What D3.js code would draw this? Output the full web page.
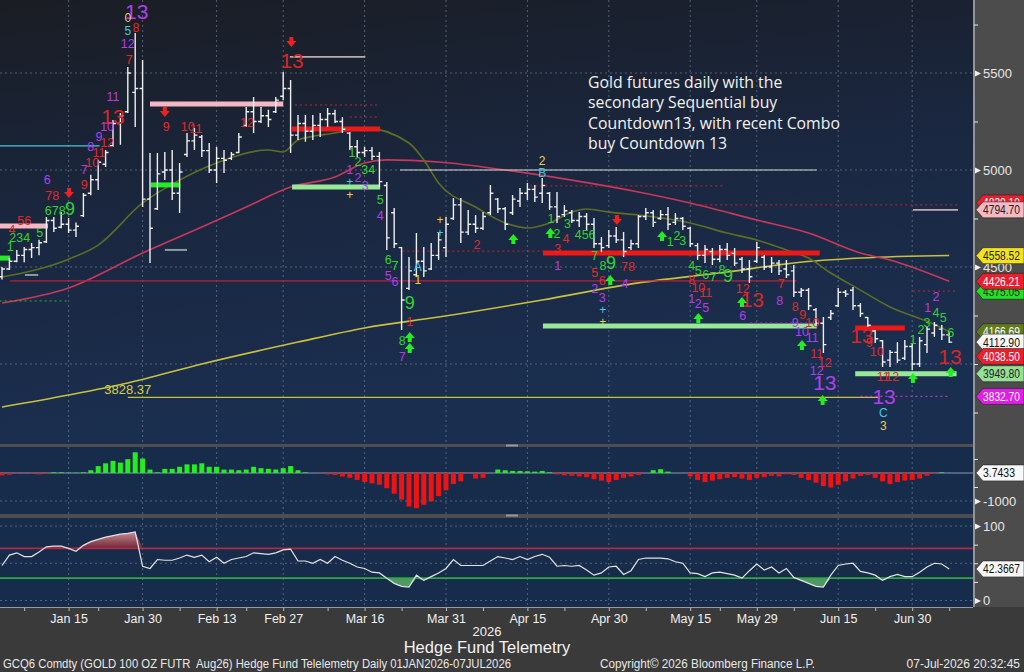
<!DOCTYPE html>
<html>
<head>
<meta charset="utf-8">
<title>Gold futures daily</title>
<script src="https://d3js.org/d3.v7.min.js"></script>
<style>
  body { margin: 0; background: #3b3b3b; }
  svg { display: block; }
  text { font-family: 'Liberation Sans Narrow', 'Arial Narrow', 'Liberation Sans', sans-serif; }
  .note { font-family: 'Open Sans', 'Noto Sans', sans-serif; font-size: 15.8px; fill: #f2f2f2; }
  .cnt { font-family: 'Liberation Sans', 'DejaVu Sans', sans-serif; text-anchor: middle; dominant-baseline: central; }
  .axis text { fill: #e6e6e6; font-size: 13px; }
  .axis line { stroke: #e6e6e6; }
  .xaxis text { fill: #f0f0f0; font-size: 12.5px; }
  .xaxis line { stroke: #bdbdbd; }
  .tagtext { font-size: 12.5px; dominant-baseline: central; }
  .foot { white-space: pre; }
</style>
</head>
<body>
<svg width="1024" height="672"></svg>
<script>
// ---- data ----
const tickLabels = ['Jan 15', 'Jan 30', 'Feb 13', 'Feb 27', 'Mar 16', 'Mar 31', 'Apr 15', 'Apr 30', 'May 15', 'May 29', 'Jun 15', 'Jun 30'];
const tickIdx = [9, 19, 29, 38, 49, 60, 71, 82, 93, 102, 113, 123];
const minorIdx = [3, 13, 24, 33, 44, 54, 65, 76, 87, 97, 107, 118, 128];

const openP = [4450,4490,4530,4560,4590,4600,4630,4740,4705,4720,
  4690,4765,4880,4950,5030,5125,5240,5300,5400,5420,
  4850,4800,4990,5000,4880,5080,5150,5170,5100,5000,
  5060,5060,5090,5230,5300,5250,5280,5300,5380,5420,
  5180,5240,5200,5230,5260,5290,5250,5190,5120,5090,
  5100,5070,4920,4780,4600,4390,4460,4530,4490,4560,
  4600,4750,4820,4680,4720,4700,4780,4850,4800,4780,
  4840,4880,4900,4880,4880,4810,4770,4780,4740,4760,
  4720,4620,4610,4660,4640,4600,4620,4760,4780,4750,
  4770,4730,4750,4700,4610,4560,4580,4540,4590,4570,
  4540,4490,4530,4550,4500,4520,4490,4480,4370,4380,
  4280,4210,4240,4300,4370,4380,4300,4240,4170,4120,
  4020,4060,4030,4090,4000,4100,4160,4180,4150];
const highP = [4500,4546,4588,4603,4624,4640,4758,4758,4783,4752,
  4730,4881,4975,5052,5103,5258,5294,5531,5706,5567,
  5088,5088,5093,5103,5036,5191,5216,5180,5139,5119,
  5103,5093,5191,5325,5376,5325,5310,5376,5505,5464,
  5284,5284,5284,5294,5320,5310,5273,5196,5155,5119,
  5119,5093,4938,4804,4603,4551,4675,4603,4624,4675,
  4758,4856,4856,4794,4768,4783,4923,4856,4809,4871,
  4907,4933,4923,4959,4887,4887,4820,4794,4783,4778,
  4753,4655,4691,4706,4680,4640,4768,4804,4794,4794,
  4809,4778,4758,4706,4624,4613,4598,4613,4624,4598,
  4551,4536,4629,4562,4551,4536,4536,4510,4392,4392,
  4289,4242,4278,4392,4381,4397,4314,4242,4175,4124,
  4072,4113,4124,4108,4139,4191,4216,4201,4165];
const lowP = [4435,4485,4525,4525,4546,4560,4624,4680,4700,4675,
  4655,4758,4870,4897,5015,5119,5130,5294,5222,4809,
  4521,4794,4948,4845,4778,5067,5103,5067,4985,4933,
  4985,5052,5088,5222,5191,5242,5222,5294,5361,5088,
  5155,5145,5155,5170,5222,5242,5191,5103,5067,5067,
  5052,4912,4588,4598,4175,4381,4448,4448,4485,4536,
  4551,4742,4624,4665,4675,4691,4768,4778,4691,4768,
  4809,4845,4835,4830,4794,4727,4758,4727,4706,4691,
  4598,4577,4598,4624,4551,4588,4598,4742,4706,4742,
  4691,4716,4691,4603,4536,4521,4510,4525,4536,4505,
  4469,4418,4521,4485,4469,4459,4443,4345,4345,4278,
  4191,4057,4227,4294,4345,4278,4242,4191,4108,3985,
  3985,4005,4021,3969,3985,4057,4139,4124,4108];
const closeP = [4490,4530,4560,4590,4600,4625,4740,4700,4720,4690,
  4710,4870,4950,5040,5090,5240,5280,5500,5420,4850,
  4700,4980,5000,4880,4990,5150,5180,5100,5000,5060,
  5050,5080,5170,5300,5250,5280,5260,5360,5420,5180,
  5240,5200,5230,5260,5290,5250,5210,5120,5090,5100,
  5070,4940,4650,4620,4330,4480,4530,4480,4560,4640,
  4720,4820,4680,4720,4700,4760,4880,4800,4720,4850,
  4880,4900,4860,4920,4810,4760,4790,4740,4760,4720,
  4620,4600,4660,4640,4580,4620,4760,4780,4730,4770,
  4720,4750,4710,4620,4560,4590,4540,4590,4560,4520,
  4490,4450,4600,4500,4520,4480,4460,4370,4380,4300,
  4210,4100,4260,4370,4360,4300,4260,4200,4130,4010,
  4060,4020,4090,4000,4120,4180,4200,4150,4112.9];

// moving averages, sampled along the lines
const ma20Idx = [0,9,13,19,24,29,36,38,40,45,49,55,57,59,64,68,71,74,77,79,82,86,93,98,102,106,109,112,116,120,125,128];
const ma20Val = [4448,4540,4613,4830,4948,5036,5103,5093,5155,5191,5217,5139,5052,4933,4809,4727,4701,4727,4783,4799,4783,4768,4727,4675,4639,4588,4546,4469,4381,4294,4220,4167];
const ma50Idx = [0,9,19,27,33,39,45,49,52,59,68,77,86,93,102,109,116,120,128];
const ma50Val = [4314,4392,4572,4706,4809,4912,4964,5036,5052,5041,5000,4948,4887,4830,4742,4675,4572,4536,4426];
const ma200Idx = [0,9,17,27,40,49,59,73,86,98,107,116,128];
const ma200Val = [3778,3840,3902,4000,4113,4186,4242,4330,4418,4474,4521,4546,4559];

const histVals = [-86,-62,-25,-12,-25,-50,-25,25,25,12,
  12,25,99,247,346,432,370,494,740,518,
  123,25,148,148,222,308,308,346,222,222,
  123,123,99,123,222,173,148,124,173,247,
  99,25,0,-12,-50,-74,-124,-173,-247,-321,
  -370,-420,-543,-741,-951,-1198,-1260,-1136,-1013,-827,
  -617,-395,-296,-25,-198,-173,0,124,99,74,
  74,62,50,74,25,-50,-86,-99,-124,-148,
  -222,-272,-321,-247,-173,-124,-74,0,99,136,
  50,0,0,-124,-247,-321,-272,-222,-173,-148,
  -198,-247,-173,-148,-99,-124,-50,-74,-173,-247,
  -346,-469,-519,-420,-296,-198,-99,-74,-173,-296,
  -395,-321,-272,-247,-198,-99,-25,25,3.7433];

const oscVals = [47,61,64,59,59,65,72,73,73,70,
  66,74,79,82,85,87,89,90,92,46,
  43,55,54,54,57,61,58,61,52,58,
  50,55,57,59,64,63,62,64,68,69,
  53,53,50,55,50,59,54,50,45,43,
  38,37,30,23,19,18,34,27,32,37,
  43,55,47,47,47,47,53,59,57,55,
  59,55,59,62,58,46,47,46,47,41,
  34,37,45,46,35,40,55,57,57,57,
  56,52,50,37,36,32,37,38,36,34,
  30,40,49,41,45,37,43,31,27,23,
  19,18,34,47,49,50,39,37,34,27,
  32,35,32,32,38,45,50,49,42.3667];

// horizontal study levels: [from bar, to bar, price, kind]
const levels = [
  [-1, 13.2, 5124, 'cyan'],
  [20, 38, 5340, 'pinkThick'],
  [-1, 6.2, 4711, 'pinkThick'],
  [20.1, 24.1, 4923, 'greenThick'],
  [-1, 1.1, 4546, 'greenThick'],
  [22, 25, 4588, 'grey'],
  [3.1, 4.9, 4459, 'grey'],
  [1.1, 107.4, 4428, 'redThin'],
  [-1, 8.9, 4325, 'greenDot'],
  [38.9, 49.1, 5583, 'pinkGrey'],
  [39.6, 51.1, 5335, 'redDot'],
  [47, 51.1, 5273, 'redDot'],
  [39.2, 51.1, 5211, 'redThick'],
  [39.2, 51.1, 4912, 'lgThick'],
  [53.8, 110.1, 5000, 'white'],
  [71.4, 97.7, 4918, 'redDot'],
  [93, 129.2, 4820, 'redDot'],
  [54.1, 73.1, 4582, 'redDot'],
  [73.1, 110.5, 4572, 'redThick'],
  [73.1, 110.1, 4196, 'lgThick'],
  [101.1, 110.1, 4211, 'magDot'],
  [17, 118.6, 3828.37, 'yellow'],
  [115.3, 122, 4186, 'redThick'],
  [115.3, 129, 3949.8, 'lgThick'],
  [116, 128.1, 3832.7, 'magDot'],
  [123.1, 129.2, 4376, 'redDot'],
  [123.1, 129.2, 4794.7, 'pinkGrey']
];

// Sequential / Combo count labels: [text, bar, price, kind]
const counts = [
  ['13',18.2,5815,'P'],['0',17.0,5784,'y'],['5',17.0,5717,'c'],['8',18.1,5732,'r'],
  ['12',17.0,5650,'p'],['7',17.2,5567,'r'],['11',15.0,5376,'p'],['13',15.0,5278,'R'],
  ['10',14.2,5222,'p'],['9',13.1,5170,'p'],['12',14.2,5139,'r'],['8',12.0,5119,'p'],
  ['11',13.1,5088,'r'],['10',12.2,5036,'r'],['7',11.1,5000,'p'],['9',11.1,4923,'r'],
  ['6',6.1,4948,'p'],['78',6.8,4866,'r'],['678',7.2,4790,'g'],['9',9.2,4800,'G'],
  ['56',3.0,4737,'r'],['4',1.35,4691,'r'],['234',2.4,4649,'g'],['5',5.1,4675,'g'],['1',1.1,4603,'g'],
  ['9',22.2,5222,'r'],['10',25.1,5222,'r'],['11',26.2,5212,'r'],['12',33.1,5242,'r'],
  ['13',39.2,5567,'R'],
  ['1',47.3,5088,'g'],['2',48.1,5041,'g'],['34',49.5,5000,'g'],
  ['1',47.0,5000,'p'],['2',48.1,4959,'p'],['3',49.1,4918,'p'],
  ['+',47.0,4938,'c'],['+',47.0,4871,'y'],['5',51.1,4845,'g'],['4',51.1,4763,'p'],
  ['6',52.2,4536,'g'],['7',53.1,4505,'g'],['5',52.2,4454,'p'],['6',53.1,4423,'p'],
  ['A',56.2,4500,'c'],['1',56.2,4433,'y'],['9',55.1,4314,'G'],['1',55.1,4216,'r'],
  ['8',54.1,4119,'g'],['7',54.1,4036,'p'],['2',64.2,4613,'r'],
  ['+',59.2,4742,'y'],['+',59.2,4675,'c'],['2',73.0,5046,'y'],['B',73.0,4985,'c'],
  ['1',74.2,4747,'g'],['3',76.4,4722,'g'],['2',75.0,4670,'g'],['4',76.2,4644,'r'],
  ['456',78.8,4665,'g'],['3',75.1,4593,'r'],['1',75.1,4505,'p'],
  ['7',80.1,4557,'g'],['8',81.2,4505,'g'],['9',82.3,4521,'G'],
  ['5',80.1,4469,'r'],['6',81.1,4428,'r'],['2',80.1,4387,'p'],['3',81.1,4340,'p'],
  ['+',81.2,4278,'c'],['+',81.2,4216,'y'],['78',84.6,4500,'r'],['4',84.2,4412,'p'],
  ['1',90.3,4629,'g'],['2',91.2,4660,'g'],['3',92.0,4634,'g'],
  ['4',93.2,4505,'g'],['5',94.1,4479,'g'],['6',95.1,4459,'g'],['7',96.1,4448,'g'],
  ['8',97.3,4485,'g'],['9',98.1,4454,'G'],
  ['8',93.2,4433,'r'],['10',94.1,4392,'r'],['11',95.1,4366,'r'],
  ['1',93.2,4335,'p'],['2',94.1,4309,'p'],['5',95.1,4289,'p'],
  ['12',100.1,4387,'r'],['13',101.4,4335,'R'],['6',100.1,4247,'p'],
  ['7',105.3,4412,'r'],['8',105.1,4325,'p'],
  ['8',107.2,4294,'r'],['9',108.2,4253,'r'],['10',109.5,4211,'r'],
  ['9',107.2,4211,'p'],['10',108.1,4165,'p'],['11',109.5,4134,'p'],
  ['11',110.1,4051,'r'],['12',111.2,4005,'r'],['12',110.1,3964,'p'],['13',111.2,3907,'P'],
  ['13',116.2,4149,'R'],['9',117.2,4108,'r'],['10',118.2,4062,'r'],
  ['11',119.1,3933,'r'],['12',120.3,3933,'r'],['13',119.2,3830,'P'],
  ['C',119.1,3747,'c'],['3',119.1,3680,'y'],
  ['1',123.1,4124,'g'],['2',124.2,4175,'g'],['3',125.0,4211,'g'],['4',126.2,4263,'g'],
  ['5',127.2,4237,'g'],['6',128.2,4160,'g'],['1',125.1,4289,'p'],['2',126.2,4345,'p'],
  ['13',128.1,4041,'R']
];

// signal arrows: [bar, price]
const sellArrows = [[9.05,4881],[22.0,5299],[39.1,5660],[83.1,4742]];
const buyArrows = [[55.1,4139],[55.1,4082],[69.1,4644],[74.1,4675],[82.2,4433],[89.2,4660],
  [94.1,4237],[100,4320],[108.1,4098],[110.9,3814],[123.1,3928],[128.2,3959]];

// last-value tags on the price axis, in drawing order (later ones sit on top)
const tagVals = [4830.1, 4794.70, 4558.52, 4375.05, 4426.21, 4166.69, 4112.90, 4038.50, 3949.80, 3832.70];
const tagKinds = ['red', 'pink', 'yellow', 'green', 'red', 'olive', 'white', 'red', 'lgreen', 'magenta'];

const noteLines = ['Gold futures daily with the', 'secondary Sequential buy', 'Countdown13, with recent Combo', 'buy Countdown 13'];

// ---- drawing ----
const svg = d3.select('svg');
const plotR = 973;

const x = d3.scaleLinear().domain([0, 128]).range([2, 949.2]);
const yP = d3.scaleLinear().domain([3750, 5750]).range([412.5, 24.5]);
const yH = d3.scaleLinear().domain([-1000, 0]).range([501, 473]);
const yO = d3.scaleLinear().domain([0, 100]).range([600.5, 526]);

const defs = svg.append('defs');
const bg = defs.append('linearGradient').attr('id', 'bgPrice')
  .attr('x1', 0).attr('y1', 0).attr('x2', 0.25).attr('y2', 1);
bg.append('stop').attr('offset', 0).attr('stop-color', '#1a1d23');
bg.append('stop').attr('offset', 0.5).attr('stop-color', '#1a2740');
bg.append('stop').attr('offset', 1).attr('stop-color', '#1a2f50');
const obFill = defs.append('linearGradient').attr('id', 'obFill').attr('x1', 0).attr('y1', 0).attr('x2', 0).attr('y2', 1);
obFill.append('stop').attr('offset', 0).attr('stop-color', '#c98a95');
obFill.append('stop').attr('offset', 1).attr('stop-color', '#6e2535');

const panels = [['clipP', 0, 444], ['clipH', 447, 67], ['clipO', 518, 89]];
panels.forEach(p => {
  defs.append('clipPath').attr('id', p[0]).append('rect')
    .attr('x', 0).attr('y', p[1]).attr('width', plotR).attr('height', p[2]);
});

svg.append('rect').attr('width', 1024).attr('height', 672).attr('fill', '#3a3a3a');
svg.append('rect').attr('x', plotR).attr('width', 1024 - plotR).attr('height', 607).attr('fill', '#4c4c4c');
svg.append('rect').attr('width', plotR).attr('height', 444).attr('fill', 'url(#bgPrice)');
svg.append('rect').attr('y', 447).attr('width', plotR).attr('height', 67).attr('fill', '#172b4b');
svg.append('rect').attr('y', 518).attr('width', plotR).attr('height', 89).attr('fill', '#172b4b');
svg.append('rect').attr('y', 444).attr('width', plotR).attr('height', 3).attr('fill', '#4e4e4e');
svg.append('rect').attr('y', 514).attr('width', plotR).attr('height', 4).attr('fill', '#4e4e4e');
[444, 514].forEach(yy => {
  svg.append('rect').attr('x', 506).attr('y', yy + 0.5).attr('width', 12).attr('height', 2).attr('fill', '#9a9a9a');
});

// grid
const grid = svg.append('g').attr('stroke', '#7a8aa0').attr('stroke-dasharray', '2,3').attr('stroke-width', 0.8).attr('opacity', 0.75);
[[0, 444], [447, 514], [518, 607]].forEach(r => {
  grid.selectAll(null).data(tickIdx).enter().append('line')
    .attr('x1', d => x(d)).attr('x2', d => x(d)).attr('y1', r[0]).attr('y2', r[1]);
});
grid.selectAll(null).data([5500, 5000, 4500, 4000]).enter().append('line')
  .attr('x1', 0).attr('x2', plotR).attr('y1', d => yP(d)).attr('y2', d => yP(d));
grid.append('line').attr('x1', 0).attr('x2', plotR).attr('y1', yH(-1000)).attr('y2', yH(-1000));
grid.selectAll(null).data([100, 50, 0]).enter().append('line')
  .attr('x1', 0).attr('x2', plotR).attr('y1', d => yO(d)).attr('y2', d => yO(d));

// price panel
const pg = svg.append('g').attr('clip-path', 'url(#clipP)');

const levelStyle = {
  cyan: ['#46c8d8', 1.2, null], pinkThick: ['#f4b8c4', 5, null], greenThick: ['#22ee22', 5, null],
  lgThick: ['#98e898', 5, null], redThick: ['#ee1818', 5, null], grey: ['#8a9aa0', 2, null],
  redThin: ['#b82236', 1.3, null], greenDot: ['#30b030', 1, '2,3'], pinkGrey: ['#c0a8b0', 1.6, null],
  redDot: ['#d02030', 1, '2,3'], white: ['#d8d8d8', 1.2, null], magDot: ['#c030d0', 1.2, '2,3'],
  yellow: ['#c8c040', 1.3, null]
};

const maLine = d3.line().x(d => x(d[0])).y(d => yP(d[1])).curve(d3.curveMonotoneX);
[[ma200Idx, ma200Val, '#c9c13e'], [ma50Idx, ma50Val, '#c8385a'], [ma20Idx, ma20Val, '#5d6e24']].forEach(m => {
  pg.append('path').datum(d3.zip(m[0], m[1])).attr('d', maLine)
    .attr('fill', 'none').attr('stroke', m[2]).attr('stroke-width', 1.6);
});

pg.selectAll('.lvl').data(levels).enter().append('line')
  .attr('class', 'lvl')
  .attr('x1', d => x(d[0])).attr('x2', d => x(d[1]))
  .attr('y1', d => yP(d[2])).attr('y2', d => yP(d[2]))
  .attr('stroke', d => levelStyle[d[3]][0])
  .attr('stroke-width', d => levelStyle[d[3]][1])
  .attr('stroke-dasharray', d => levelStyle[d[3]][2]);

// OHLC bars
const bars = d3.range(closeP.length).map(i => ({ i, o: openP[i], h: highP[i], l: lowP[i], c: closeP[i] }));
pg.append('g').selectAll('path').data(bars).enter().append('path')
  .attr('d', d => {
    const cx = x(d.i);
    return `M${cx},${yP(d.h)}V${yP(d.l)}M${cx - 3},${yP(d.o)}H${cx}M${cx},${yP(d.c)}H${cx + 3}`;
  })
  .attr('stroke', '#efefef').attr('stroke-width', 1.4).attr('fill', 'none');

const countColor = { r: '#e02a2a', R: '#d82626', g: '#32d232', G: '#32d232', p: '#b040e6', P: '#b040e6', c: '#40c8e6', y: '#e6d048' };
const countSize = { r: 12.5, R: 21, g: 12.5, G: 18, p: 12.5, P: 21, c: 12, y: 12 };
pg.selectAll('.cnt').data(counts).enter().append('text')
  .attr('class', 'cnt')
  .attr('x', d => x(d[1])).attr('y', d => yP(d[2]))
  .attr('fill', d => countColor[d[3]])
  .attr('font-size', d => countSize[d[3]])
  .text(d => d[0]);

const arrowPath = 'M-2,-5H2V-1H5L0,5L-5,-1H-2Z';
pg.selectAll('.sa').data(sellArrows).enter().append('path')
  .attr('d', arrowPath).attr('fill', '#ee2020')
  .attr('transform', d => `translate(${x(d[0])},${yP(d[1])})`);
pg.selectAll('.ba').data(buyArrows).enter().append('path')
  .attr('d', arrowPath).attr('fill', '#22ee22')
  .attr('transform', d => `translate(${x(d[0])},${yP(d[1])}) rotate(180)`);

pg.append('text').attr('x', x(17)).attr('y', yP(3866)).attr('text-anchor', 'middle')
  .attr('dominant-baseline', 'central').attr('fill', '#d8d048').attr('font-size', 13)
  .style('font-family', "'Liberation Sans', sans-serif").text('3828.37');

svg.append('g').selectAll('text').data(noteLines).enter().append('text')
  .attr('class', 'note').attr('x', 588).attr('y', (d, i) => 88 + i * 20.3).text(d => d);

// histogram panel
const hg = svg.append('g').attr('clip-path', 'url(#clipH)');
hg.append('line').attr('x1', 0).attr('x2', plotR).attr('y1', yH(0)).attr('y2', yH(0))
  .attr('stroke', '#8a9ab0').attr('stroke-width', 1);
hg.selectAll('rect').data(histVals).enter().append('rect')
  .attr('x', (d, i) => x(i) - 2.5).attr('width', 5)
  .attr('y', d => d >= 0 ? yH(d) : yH(0))
  .attr('height', d => Math.abs(yH(d) - yH(0)))
  .attr('fill', d => d >= 0 ? '#22ee22' : '#ee1414');

// oscillator panel
const og = svg.append('g').attr('clip-path', 'url(#clipO)');
const oscPts = oscVals.map((v, i) => [i, v]);
og.append('path').datum(oscPts)
  .attr('d', d3.area().x(d => x(d[0])).y0(yO(70)).y1(d => yO(Math.max(d[1], 70))))
  .attr('fill', 'url(#obFill)');
og.append('path').datum(oscPts)
  .attr('d', d3.area().x(d => x(d[0])).y0(yO(30)).y1(d => yO(Math.min(d[1], 30))))
  .attr('fill', '#4f9a62');
og.append('line').attr('x1', 0).attr('x2', plotR).attr('y1', yO(70)).attr('y2', yO(70))
  .attr('stroke', '#b02a44').attr('stroke-width', 1.6);
og.append('line').attr('x1', 0).attr('x2', plotR).attr('y1', yO(30)).attr('y2', yO(30))
  .attr('stroke', '#2ea844').attr('stroke-width', 1.6);
og.append('path').datum(oscPts)
  .attr('d', d3.line().x(d => x(d[0])).y(d => yO(d[1])))
  .attr('fill', 'none').attr('stroke', '#e4e4e4').attr('stroke-width', 1.2);

// right axes
svg.append('line').attr('x1', 974).attr('x2', 974).attr('y1', 0).attr('y2', 607)
  .attr('stroke', '#c6c6c6').attr('stroke-width', 1.2);

const labeled = [5500, 5000, 4500, -1000, 100, 0];
function rightAxis(scale, values, fmt) {
  const g = svg.append('g').attr('class', 'axis').attr('transform', 'translate(974,0)')
    .call(d3.axisRight(scale).tickValues(values).tickSize(4).tickPadding(5).tickFormat(fmt));
  g.select('.domain').remove();
  g.selectAll('.tick').filter(d => labeled.includes(d)).append('path')
    .attr('d', 'M1,-3L7,0L1,3Z').attr('fill', '#f0f0f0');
  g.selectAll('.tick').filter(d => labeled.includes(d)).select('line').remove();
  return g;
}
rightAxis(yP, [5750, 5500, 5250, 5000, 4750, 4500, 4250, 4000, 3750], d => [5500, 5000, 4500].includes(d) ? d : '');
rightAxis(yH, [500, -500, -1000], d => d === -1000 ? '-1000' : '');
rightAxis(yO, [100, 75, 50, 25, 0], d => (d === 100 || d === 0) ? d : '');

const tagFill = { red: '#e8202c', pink: '#f6b8c2', yellow: '#f2e21e', green: '#22e022', olive: '#5f7a1e',
  white: '#f8f8f8', lgreen: '#94e094', magenta: '#e01ee6' };
const tagInk = { red: '#ffffff', pink: '#222222', yellow: '#222222', green: '#222222', olive: '#ffffff',
  white: '#111111', lgreen: '#222222', magenta: '#ffffff' };
function tag(yy, label, kind) {
  svg.append('path')
    .attr('d', `M976,${yy}L983,${yy - 8}H1024V${yy + 8}H983Z`)
    .attr('fill', tagFill[kind]).attr('stroke', '#222').attr('stroke-width', 0.6);
  svg.append('text').attr('class', 'tagtext').attr('x', 983).attr('y', yy + 0.5)
    .attr('textLength', label.length > 6 ? 37 : 32).attr('lengthAdjust', 'spacingAndGlyphs')
    .attr('fill', tagInk[kind]).text(label);
}
tagVals.forEach((v, i) => tag(yP(v), v.toFixed(2), tagKinds[i]));
tag(yH(histVals[histVals.length - 1]), '3.7433', 'white');
tag(yO(oscVals[oscVals.length - 1]), '42.3667', 'white');

// bottom axis
const xa = svg.append('g').attr('class', 'xaxis').attr('transform', 'translate(0,607)')
  .call(d3.axisBottom(x).tickValues(tickIdx).tickSize(4).tickFormat((d, i) => tickLabels[i]));
xa.select('.domain').remove();
svg.append('g').attr('class', 'xaxis').attr('transform', 'translate(0,607)')
  .call(d3.axisBottom(x).tickValues(minorIdx).tickSize(4).tickFormat(''))
  .select('.domain').remove();
svg.append('line').attr('x1', 0).attr('x2', plotR).attr('y1', 607.5).attr('y2', 607.5)
  .attr('stroke', '#9a9a9a');

svg.append('text').attr('x', 487).attr('y', 636).attr('text-anchor', 'middle')
  .attr('fill', '#f0f0f0').attr('font-size', 13).text('2026');
svg.append('text').attr('x', 487).attr('y', 653).attr('text-anchor', 'middle')
  .attr('fill', '#f4f4f4').attr('font-size', 16.5).text('Hedge Fund Telemetry');

svg.append('text').attr('class', 'foot').attr('x', 3).attr('y', 668).attr('fill', '#e8e8e8').attr('font-size', 12)
  .attr('textLength', 508).attr('lengthAdjust', 'spacingAndGlyphs')
  .text('GCQ6 Comdty (GOLD 100 OZ FUTR  Aug26) Hedge Fund Telelemetry Daily 01JAN2026-07JUL2026');
svg.append('text').attr('class', 'foot').attr('x', 600).attr('y', 668).attr('fill', '#e8e8e8').attr('font-size', 12)
  .attr('textLength', 215).attr('lengthAdjust', 'spacingAndGlyphs')
  .text('Copyright\u00a9 2026 Bloomberg Finance L.P.');
svg.append('text').attr('class', 'foot').attr('x', 1020).attr('y', 668).attr('fill', '#e8e8e8').attr('font-size', 12)
  .attr('text-anchor', 'end')
  .text('07-Jul-2026 20:32:45');
</script>
</body>
</html>
